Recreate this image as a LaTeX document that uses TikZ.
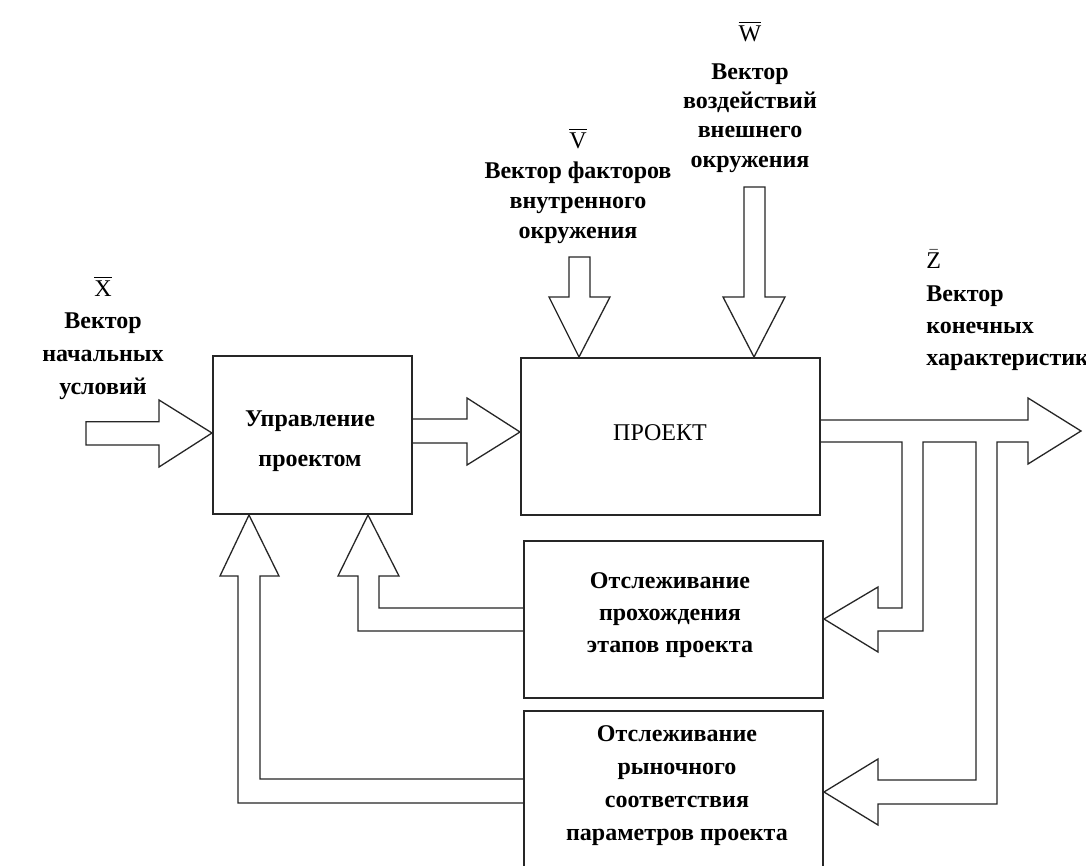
\documentclass[tikz,border=0pt]{standalone}
\usepackage{fontspec}
\setmainfont{Liberation Serif}
\usetikzlibrary{calc}
\begin{document}
\begin{tikzpicture}[x=0.5pt,y=-0.5pt,
  box/.style={draw=black!85, line width=1pt, fill=none, inner sep=0pt},
  arr/.style={draw=black!85, line width=0.65pt, line join=miter},
  lbl/.style={font=\bfseries\fontsize{12}{16}\selectfont, align=center, inner sep=0pt},
  vec/.style={font=\mdseries\fontsize{12}{14}\selectfont}
]
\useasboundingbox (0,0) rectangle (1086,866);
\clip (0,0) rectangle (1086,866);
\fill[white] (0,0) rectangle (1086,866);

% blocks
\node[box, minimum width=99.5pt, minimum height=79pt] (ctrl) at (312.5,435) {};
\node[lbl] (ctrltxt) at (310,441) {Управление\\[4pt]проектом};
\node[box, minimum width=149.5pt, minimum height=78.5pt] (proj) at (670.5,436.5) {};
\node[font=\fontsize{12}{14}\selectfont, inner sep=0pt] (projtxt) at (660,433) {ПРОЕКТ};
\node[box, minimum width=149.5pt, minimum height=78.5pt] (mon) at (673.5,619.5) {};
\node[lbl] (montxt) at (670,615) {Отслеживание\\прохождения\\этапов проекта};
\node[box, minimum width=149.5pt, minimum height=84.5pt] (mkt) at (673.5,795.5) {};
\node[lbl] (mkttxt) at (677,786) {Отслеживание\\[0.5pt]рыночного\\[0.5pt]соответствия\\[0.5pt]параметров проекта};

% labels of the vectors
\node[lbl] (xlbl) at (103,338) {{\mdseries$\overline{\hbox{X}}$}\\Вектор\\[0.5pt]начальных\\[0.5pt]условий};
\node[lbl] (vlbl) at (578,186) {{\mdseries$\overline{\hbox{V}}$}\\[-1pt]Вектор факторов\\[-1pt]внутренного\\[-1pt]окружения};
\node[lbl] (wlbl) at (750,97) {{\mdseries$\overline{\hbox{W}}$}\\[3pt]Вектор\\[-1.3pt]воздействий\\[-1.3pt]внешнего\\[-1.3pt]окружения};
\node[lbl, align=left, anchor=west] (zlbl) at (926,310) {{\mdseries$\bar{\hbox{Z}}$}\\[0.5pt]Вектор\\конечных\\характеристик};

% input vector X
\draw[arr] (ctrl.west |- 0,433) -- ++(-53,-33) -- ++(0,21.7) -- ++(-73,0)
  -- ++(0,23.3) -- ++(73,0) -- ++(0,22) -- cycle;

% control -> project
\draw[arr] (ctrl.east |- 0,419) -- (467,419) -- (467,398) -- (proj.west |- 0,432)
  -- (467,465) -- (467,443) -- (ctrl.east |- 0,443);

% internal factors V
\draw[arr] (569,257) -- (569,297) -- (549,297) -- (proj.north -| 579,0)
  -- (610,297) -- (590,297) -- (590,257) -- cycle;

% external influences W
\draw[arr] (744,187) -- (744,297) -- (723,297) -- (proj.north -| 754,0)
  -- (785,297) -- (765,297) -- (765,187) -- cycle;

% output Z with the two feedback branches
\draw[arr] (proj.east |- 0,420) -- (1028,420) -- (1028,398) -- (1081,431)
  -- (1028,464) -- (1028,442) -- (997,442) -- (997,804) -- (878,804)
  -- (878,825) -- (mkt.east |- 0,792) -- (878,759) -- (878,780) -- (976,780)
  -- (976,442) -- (923,442) -- (923,631) -- (878,631) -- (878,652)
  -- (mon.east |- 0,619) -- (878,587) -- (878,608) -- (902,608) -- (902,442)
  -- (proj.east |- 0,442);

% stage tracking -> control
\draw[arr] (mon.west |- 0,608) -- (379,608) -- (379,576) -- (399,576)
  -- (ctrl.south -| 368,0) -- (338,576) -- (358,576) -- (358,631) -- (mon.west |- 0,631);

% market tracking -> control
\draw[arr] (mkt.west |- 0,779) -- (260,779) -- (260,576) -- (279,576)
  -- (ctrl.south -| 249,0) -- (220,576) -- (238,576) -- (238,803) -- (mkt.west |- 0,803);
\end{tikzpicture}
\end{document}
